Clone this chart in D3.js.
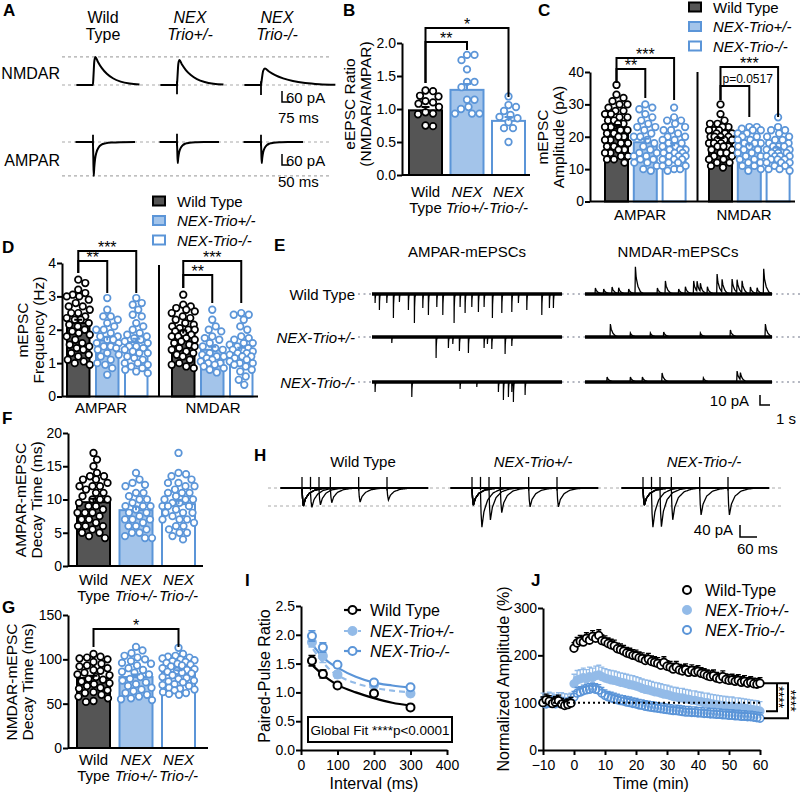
<!DOCTYPE html>
<html>
<head>
<meta charset="utf-8">
<script src="https://cdn.jsdelivr.net/npm/d3@7/dist/d3.min.js"></script>
<style>
html,body{margin:0;padding:0;background:#fff;}
svg{display:block;}
</style>
</head>
<body>
<svg id="fig" width="800" height="795"></svg>
<script>
// ===================== DATA =====================
const genotypes = ["Wild Type", "NEX-Trio+/-", "NEX-Trio-/-"];
const receptors = ["AMPAR", "NMDAR"];

// A: evoked EPSC example amplitudes (pA)
const aNmdaPeak = [153, 136, 90];
const aNmdaStretch = [1, 1, 1.6];
const aNmdaArtifact = [0, 50, 55];
const aAmpaPeak = [185, 115, 115];
const aAmpaArtifact = [40, 45, 40];
// waveform templates (time ms, fraction of peak)
const nmdaTplT = [0, 4, 12, 22, 45, 80, 125, 180, 250, 330, 420];
const nmdaTplF = [0, 0.3, 0.85, 1, 0.82, 0.6, 0.4, 0.24, 0.12, 0.05, 0.02];
const ampaTplT = [0, 2, 5, 9, 15, 25, 40, 60, 90, 140, 200, 300];
const ampaTplF = [0, 0.4, 1, 0.75, 0.5, 0.3, 0.16, 0.08, 0.04, 0.015, 0.005, 0];

// B: eEPSC ratio
const bRatioWT  = [1.28, 1.27, 1.2, 1.19, 1.12, 1.1, 1.08, 1.03, 0.95, 0.93, 0.92, 0.75, 0.74];
const bRatioHet = [1.82, 1.82, 1.74, 1.6, 1.41, 1.41, 1.33, 1.14, 1.14, 1.03, 1.0, 0.93, 0.93, 0.93];
const bRatioKO  = [1.19, 1.06, 1.03, 0.97, 0.91, 0.88, 0.86, 0.8, 0.71, 0.71, 0.5];
const bMeans = [0.98, 1.29, 0.82];
const bSems = [0.05, 0.09, 0.06];
const bTicks = [0, 0.5, 1.0, 1.5, 2.0];

// C: mEPSC amplitude (pA)
const cAmpaWT  = [36,33,32,31,30,30,29,28,28,27,27,26,26,25,25,24,24,23,23,22,22,21,21,20,20,19,19,18,18,17,17,16,16,15,15,14,14,13,13,12];
const cAmpaHet = [30,29,28.5,27,26,25,24,23,23,22,21,20,20,19,18,17,16,15,15,14,14,13,13,12,12,11,10,9.5];
const cAmpaKO  = [29,26,25,25,24,23,22,22,21,20,20,19,19,18,18,17,17,16,16,16,15,15,15,14,14,14,13,13,13,12,12,11,11,10,10,9.5];
const cNmdaWT  = [30,27,25,24,24,23,23,22,22,22,21,21,21,20,20,20,20,19,19,19,18,18,18,17,17,17,16,16,15,15,14,14,13,13,12,12,11,10.5];
const cNmdaHet = [23,23,22.5,22,22,21,21,20,20,19,19,18,18,18,17,17,16,16,15,15,14,14,13,13,12,12,11,11,10,9.5];
const cNmdaKO  = [26,23,22,22,21,20,20,19,19,18,18,17,17,17,16,16,16,15,15,15,14,14,14,13,13,13,12,12,12,11,11,10,10,9.5,15,14];
const cMeans = [[22.6, 18.3, 17.1], [18.9, 17.0, 15.9]];
const cSems = [[1.0, 1.1, 0.9], [0.7, 0.7, 0.7]];
const cTicks = [0, 10, 20, 30, 40];

// D: mEPSC frequency (Hz)
const dAmpaWT  = [3.5,3.4,3.2,3.1,3.05,3.0,3.0,2.9,2.8,2.7,2.6,2.5,2.4,2.35,2.3,2.3,2.2,2.15,2.1,2.0,1.95,1.9,1.85,1.8,1.7,1.6,1.55,1.5,1.45,1.4,1.3,1.25,1.2,1.1,1.05,1.0,0.95,2.7,2.5];
const dAmpaHet = [2.95,2.6,2.4,2.4,2.3,2.2,2.1,2.0,2.0,1.9,1.8,1.7,1.7,1.6,1.5,1.5,1.4,1.3,1.25,1.2,1.1,1.0,0.95,0.85,0.65,1.8,1.6,1.45];
const dAmpaKO  = [2.95,2.8,2.75,2.6,2.45,2.4,2.2,2.1,2.0,1.9,1.85,1.8,1.75,1.7,1.65,1.6,1.5,1.45,1.4,1.35,1.3,1.2,1.15,1.1,1.0,0.95,0.9,0.85,0.8,0.75,0.7,1.5,1.3,1.0];
const dNmdaWT  = [3.05,2.75,2.7,2.65,2.6,2.55,2.5,2.4,2.35,2.3,2.2,2.15,2.1,2.05,2.0,1.95,1.9,1.85,1.8,1.75,1.7,1.65,1.6,1.55,1.5,1.45,1.4,1.35,1.3,1.25,1.2,1.1,1.0,0.95,0.9,0.85,2.0,1.8];
const dNmdaHet = [2.6,2.3,2.1,2.0,1.95,1.8,1.75,1.7,1.6,1.5,1.45,1.4,1.3,1.25,1.2,1.15,1.1,1.05,1.0,0.95,0.9,0.85,0.8,0.72,1.2,1.0];
const dNmdaKO  = [2.5,2.45,2.45,2.3,2.1,2.0,1.8,1.75,1.7,1.6,1.55,1.5,1.45,1.4,1.35,1.3,1.25,1.2,1.15,1.1,1.05,1.0,0.95,0.9,0.8,0.75,0.6,0.5,0.35,1.6,1.3,1.0,1.2,1.4];
const dMeans = [[2.2, 1.68, 1.63], [1.89, 1.4, 1.37]];
const dSems = [[0.1, 0.1, 0.1], [0.09, 0.09, 0.09]];
const dTicks = [0, 1, 2, 3, 4];

// E: mEPSC example events (time s, amplitude pA)
const eAmpaTimes = [
  [0.3,0.73,1.47,2.13,2.73,3.63,4.23,5.07,5.63,6.47,7.07,8.2,8.8,9.3,9.97,10.63,11.2,12.03,12.97,13.97,14.63,15.47,16.97,17.73,18.13],
  [1.97,6.4,7.63,8.07,8.73,9.63,11.2,11.53,11.97,13.3,13.97],
  [0.3,3.97,8.8,10.47,12.63,13.13,13.63,13.97,14.13,15.3]
];
const eAmpaAmps = [
  [9,16,9,24,8,16,29,14,21,13,21,29,13,19,13,18,13,24,19,18,9,16,21,14,14],
  [6,21,11,7,14,16,11,7,12,17,9],
  [10,15,7,5,10,18,15,10,20,13]
];
const eNmdaTimes = [
  [1.0,1.83,2.67,3.33,4.33,5.0,7.2,8.0,9.33,10.0,10.83,11.17,11.5,12.2,13.17,13.67,14.67,15.17,15.67,16.5,17.17,17.83],
  [2.5,4.5,6.5,7.83,11.5,14.5,18.0],
  [2.17,4.5,5.7,7.67,11.8,15.17,15.5]
];
const eNmdaAmps = [
  [6,5,7,6,5,27,6,13,5,7,13,10,8,7,20,13,15,13,12,7,6,25],
  [13,4,4,5,4,7,13],
  [5,5,5,9,4,11,7]
];
const ampaMiniT = [0, 0.01, 0.03, 0.07, 0.15];
const ampaMiniF = [0, 1, 0.45, 0.12, 0];
const nmdaMiniT = [0, 0.04, 0.12, 0.3, 0.55, 0.9];
const nmdaMiniF = [0, 1, 0.6, 0.28, 0.08, 0];

// F, G: decay times (ms)
const fWT  = [17,16,15,14,13.5,13.5,13,13,12.5,12,12,11.5,11,11,10.5,10,10,9.5,9,9,8.5,8,8,7.5,7,7,6.5,6,6,5.5,5,5,4.5,4.2,12,10,8,6];
const fHet = [14,13,12.5,12.2,12,11,11,10.5,10,10,9.5,9,9,8.5,8,8,7.5,7,7,6.5,6,6,5.5,5,5,4.5,4.2,4.2,9,7];
const fKO  = [17,14,13.8,13.5,13,12.5,12,12,11.5,11,11,10.5,10,10,9.5,9.5,9,9,8.5,8,8,7.5,7,7,6.5,6,6,5.5,5,5,4.5,4,11,10,8,7,12.5,9];
const fMeans = [9.6, 8.4, 9.3];
const fSems = [0.5, 0.5, 0.5];
const fTicks = [0, 5, 10, 15, 20];
const gWT  = [106,103,102,101,100,97,95,93,92,90,88,87,85,83,82,80,78,77,75,73,72,70,68,67,65,63,62,60,58,56,53,52];
const gHet = [114,110,107,104,102,100,98,96,95,93,90,88,86,85,83,80,78,76,74,72,70,68,66,64,62,60,58,56,55,54];
const gKO  = [113,106,104,103,102,101,100,99,98,97,96,95,94,93,92,90,89,88,87,86,85,84,82,80,79,78,76,75,74,72,71,70,68,67,66,65,63,62,61,60];
const gMeans = [79, 80, 85.7];
const gSems = [2.5, 3, 2];
const gTicks = [0, 50, 100, 150];

// H / I: paired-pulse
const ppInterval = [30, 60, 100, 200, 300];
const hFirstAmp = [60, 57, 57];
const hSecondAmp = [[52, 53, 49, 47, 40], [119, 103, 82, 63, 63], [119, 126, 106, 90, 90]];
const hTplT = [0, 2, 5, 12, 25, 45, 70, 100];
const hTplF = [0, 0.6, 1, 0.6, 0.3, 0.12, 0.04, 0];
const ppWT  = [1.55, 1.32, 1.12, 0.98, 0.74];
const ppHet = [1.87, 1.63, 1.31, 1.13, 0.98];
const ppKO  = [1.98, 1.78, 1.48, 1.17, 1.09];
const ppWTsem  = [0.09, 0.07, 0.04, 0.05, 0.03];
const ppHetsem = [0.08, 0.11, 0.06, 0.05, 0.05];
const ppKOsem  = [0.09, 0.08, 0.05, 0.04, 0.04];
const fitInterval = [33, 50, 75, 100, 150, 200, 250, 300];
const fitWT  = [1.46, 1.36, 1.23, 1.13, 1.0, 0.9, 0.82, 0.77];
const fitHet = [1.75, 1.6, 1.42, 1.3, 1.16, 1.08, 1.03, 1.0];
const fitKO  = [1.82, 1.68, 1.53, 1.43, 1.27, 1.17, 1.12, 1.08];
const iXTicks = [0, 100, 200, 300, 400];
const iYTicks = [0, 0.5, 1.0, 1.5, 2.0, 2.5];

// J: LTP time course
const jTime = [-10,-9,-8,-7,-6,-5,-4,-3,-2,-1,0,1,2,3,4,5,6,7,8,9,10,11,12,13,14,15,16,17,18,19,20,21,22,23,24,25,26,27,28,29,30,31,32,33,34,35,36,37,38,39,40,41,42,43,44,45,46,47,48,49,50,51,52,53,54,55,56,57,58,59,60];
const jWT = [100,106,103,98,101,104,97,94,96,99,
  215,226,230,228,236,232,240,236,242,231,
  229,225,222,220,214,212,209,205,203,200,
  199,195,193,189,192,187,185,183,179,185,
  177,175,171,175,169,167,170,164,168,164,
  166,162,160,157,155,157,152,150,155,149,
  147,148,145,147,143,145,141,143,140,139,141];
const jHet = [100,98,102,100,97,101,101,99,98,100,
  140,148,150,153,150,155,153,157,159,155,
  152,150,148,147,145,143,142,140,138,137,
  135,133,130,128,127,125,123,122,120,118,
  117,115,113,112,110,110,108,107,105,105,
  103,102,100,100,98,97,96,95,94,93,
  92,92,90,90,89,88,87,86,85,84,82];
const jKO = [100,97,99,101,98,100,99,96,98,100,
  112,120,122,125,127,128,130,128,126,120,
  115,112,110,108,106,104,103,101,100,98,
  97,95,94,92,91,90,89,88,87,86,
  85,84,83,83,82,81,80,80,79,79,
  78,78,77,77,76,76,75,75,74,74,
  73,73,72,72,71,71,70,70,69,68,67];
const jSem = [12, 20, 12];
const jXTicks = [-10, 0, 10, 20, 30, 40, 50, 60];
const jYTicks = [0, 100, 200, 300];

// ===================== STYLE =====================
const FONT = "'Liberation Sans', Arial, Helvetica, sans-serif";
const BLUE = "#5b95d8", LIGHT = "#a3c4ea", LIGHTDOT = "#93bbe8";
const fills = ["#555555", LIGHT, "#ffffff"];
const strokes = ["#000000", BLUE, BLUE];
const R = 3.3;

const svg = d3.select("#fig").attr("font-family", FONT);
svg.append("rect").attr("width", 800).attr("height", 795).attr("fill", "#fff");

function txt(g, x, y, s, o = {}) {
  const t = g.append("text").attr("x", x).attr("y", y).text(s)
    .attr("font-size", o.size || 15).attr("text-anchor", o.anchor || "start")
    .attr("fill", o.fill || "#000");
  if (o.italic) t.attr("font-style", "italic");
  if (o.bold) t.attr("font-weight", "bold");
  if (o.rot) t.attr("transform", `rotate(${o.rot},${x},${y})`);
  return t;
}
function styleAxis(ax, size = 14) {
  ax.attr("font-family", FONT).attr("font-size", size);
  ax.select(".domain").attr("stroke", "#000").attr("stroke-width", 2);
  ax.selectAll(".tick line").attr("stroke", "#000").attr("stroke-width", 2);
  ax.selectAll(".tick text").attr("fill", "#000");
}
function band(left, step, bw) {
  const pi = 1 - bw / step, po = pi / 2, start = left - po * step;
  return d3.scaleBand().domain(genotypes).range([start, start + 3 * step]).paddingInner(pi).paddingOuter(po);
}
function swarm(vals, y, cx, maxHalf) {
  const pts = vals.map(v => ({ v, py: y(v) })).sort((a, b) => b.v - a.v);
  const placed = [], D = 2 * R + 0.8;
  const cands = [0];
  for (let o = 0.5; o <= maxHalf; o += 0.5) cands.push(o, -o);
  for (const p of pts) {
    let chosen = null;
    for (const o of cands) {
      const x = cx + o;
      let ok = true;
      for (const q of placed) { const dx = q.x - x, dy = q.py - p.py; if (dx * dx + dy * dy < D * D) { ok = false; break; } }
      if (ok) { chosen = x; break; }
    }
    if (chosen === null) {
      let best = -1;
      for (const o of cands) {
        const x = cx + o; let md = Infinity;
        for (const q of placed) md = Math.min(md, Math.hypot(q.x - x, q.py - p.py));
        if (md > best) { best = md; chosen = x; }
      }
    }
    p.x = chosen; placed.push(p);
  }
  return placed;
}
function drawBars(g, xb, y, valsArr, means, sems, maxHalf) {
  const bw = xb.bandwidth();
  genotypes.forEach((gn, k) => {
    const x0 = xb(gn), cx = x0 + bw / 2;
    g.append("rect").attr("x", x0).attr("y", y(means[k])).attr("width", bw)
      .attr("height", y(0) - y(means[k])).attr("fill", fills[k]).attr("stroke", strokes[k]).attr("stroke-width", 2);
    const pts = swarm(valsArr[k], y, cx, maxHalf);
    g.selectAll(null).data(pts).join("circle").attr("cx", d => d.x).attr("cy", d => d.py).attr("r", R)
      .attr("fill", "#fff").attr("stroke", strokes[k]).attr("stroke-width", 1.7);
    const yt = y(means[k] + sems[k]);
    g.append("path").attr("d", `M${cx},${y(means[k])}V${yt}M${cx - 4},${yt}H${cx + 4}`)
      .attr("stroke", strokes[k]).attr("stroke-width", 2).attr("fill", "none");
  });
}
function barAxes(g, y, axisX, xEnd, ticks, fmt) {
  const ax = g.append("g").attr("transform", `translate(${axisX},0)`)
    .call(d3.axisLeft(y).tickValues(ticks).tickFormat(fmt).tickSize(5).tickSizeOuter(0).tickPadding(1));
  styleAxis(ax);
  g.append("line").attr("x1", axisX).attr("x2", xEnd).attr("y1", y(0)).attr("y2", y(0))
    .attr("stroke", "#000").attr("stroke-width", 2);
}
function bracket(g, x1, x2, yTop, yL, yR, label) {
  g.append("path").attr("d", `M${x1},${yL}V${yTop}H${x2}V${yR}`).attr("fill", "none")
    .attr("stroke", "#000").attr("stroke-width", 2);
  if (label.startsWith("p")) txt(g, x1 + 2, yTop - 3, label, { size: 12 });
  else txt(g, (x1 + x2) / 2, yTop + 2, label, { size: 16, anchor: "middle" });
}
function groupLabels(g, xb, y1, y2) {
  const top = ["Wild", "NEX", "NEX"], bot = ["Type", "Trio+/-", "Trio-/-"];
  genotypes.forEach((gn, k) => {
    const cx = xb(gn) + xb.bandwidth() / 2;
    txt(g, cx, y1, top[k], { anchor: "middle", italic: k > 0 });
    txt(g, cx, y2, bot[k], { anchor: "middle", italic: k > 0 });
  });
}
function barLegend(g, x, ys) {
  genotypes.forEach((gn, k) => {
    g.append("rect").attr("x", x).attr("y", ys[k] - 4.5).attr("width", 12).attr("height", 9)
      .attr("fill", fills[k]).attr("stroke", strokes[k]).attr("stroke-width", 2);
    txt(g, x + 24, ys[k] + 5.5, gn, { italic: k > 0 });
  });
}
const ctr = (xb, k) => xb(genotypes[k]) + xb.bandwidth() / 2;

// Panel letters
[["A", 3, 16], ["B", 343, 16], ["C", 538, 16], ["D", 2, 253], ["E", 274, 251], ["F", 2, 424],
 ["G", 2, 613], ["H", 254, 461], ["I", 245, 586], ["J", 531, 586]]
  .forEach(([s, x, y]) => txt(svg, x, y, s, { size: 17, bold: true }));

// ===================== A =====================
{
  const g = svg.append("g");
  const col = d3.scalePoint().domain(genotypes).range([103, 277]);
  const stimX = [93, 177, 261];
  const aY = d3.scaleLinear().domain([0, 60]).range([0, 11]);
  const nB = 85, aB = 142;
  const top = ["Wild", "NEX", "NEX"], bot = ["Type", "Trio+/-", "Trio-/-"];
  genotypes.forEach((gn, k) => {
    txt(g, col(gn), 23, top[k], { size: 16, anchor: "middle", italic: k > 0 });
    txt(g, col(gn), 40, bot[k], { size: 16, anchor: "middle", italic: k > 0 });
  });
  txt(g, 60, 79, "NMDAR", { size: 16, anchor: "end" });
  txt(g, 60, 166, "AMPAR", { size: 16, anchor: "end" });
  [nB, nB - aY(aNmdaPeak[0]), aB, aB + aY(aAmpaPeak[0])].forEach(yy =>
    g.append("line").attr("x1", 62).attr("x2", 330).attr("y1", yy).attr("y2", yy)
      .attr("stroke", "#aaa").attr("stroke-width", 1.2).attr("stroke-dasharray", "3,3"));
  genotypes.forEach((gn, k) => {
    const sx = stimX[k];
    const xN = d3.scaleLinear().domain([0, 75]).range([sx, sx + 8.3]);
    const ptsN = [[-150, 0], [-1, 0]].concat(nmdaTplT.map((t, i) => [t * aNmdaStretch[k], nmdaTplF[i] * aNmdaPeak[k]]));
    ptsN.splice(2, 1);
    g.append("path").attr("d", d3.line().x(d => xN(d[0])).y(d => nB - aY(d[1])).curve(d3.curveMonotoneX)(ptsN))
      .attr("fill", "none").attr("stroke", "#000").attr("stroke-width", 2);
    if (aNmdaArtifact[k] > 0)
      g.append("line").attr("x1", xN(0)).attr("x2", xN(0)).attr("y1", nB - aY(20)).attr("y2", nB + aY(aNmdaArtifact[k]))
        .attr("stroke", "#000").attr("stroke-width", 1.8);
    const xA = d3.scaleLinear().domain([0, 50]).range([sx, sx + 7]);
    const ptsA = [[-125, 0], [-1, 0]].concat(ampaTplT.slice(1).map((t, i) => [t, ampaTplF[i + 1] * aAmpaPeak[k]]));
    g.append("path").attr("d", d3.line().x(d => xA(d[0])).y(d => aB + aY(d[1])).curve(d3.curveMonotoneX)(ptsA))
      .attr("fill", "none").attr("stroke", "#000").attr("stroke-width", 2);
    g.append("line").attr("x1", xA(0)).attr("x2", xA(0)).attr("y1", aB - aY(aAmpaArtifact[k])).attr("y2", aB + aY(20))
      .attr("stroke", "#000").attr("stroke-width", 1.8);
  });
  const xN = d3.scaleLinear().domain([0, 75]).range([282, 282 + 8.3]);
  g.append("path").attr("d", `M282,${102 - aY(60)}V102H${xN(75)}`).attr("fill", "none").attr("stroke", "#000").attr("stroke-width", 1.5);
  txt(g, 286, 103, "60 pA");
  txt(g, 278, 123, "75 ms");
  const xA = d3.scaleLinear().domain([0, 50]).range([282, 289]);
  g.append("path").attr("d", `M282,${165 - aY(60)}V165H${xA(50)}`).attr("fill", "none").attr("stroke", "#000").attr("stroke-width", 1.5);
  txt(g, 286, 166, "60 pA");
  txt(g, 278, 187, "50 ms");
}

// ===================== B =====================
{
  const g = svg.append("g");
  const y = d3.scaleLinear().domain([0, 2]).range([175, 43]);
  const xb = band(409, 41.5, 33);
  drawBars(g, xb, y, [bRatioWT, bRatioHet, bRatioKO], bMeans, bSems, 15);
  barAxes(g, y, 402, 530, bTicks, d3.format(".1f"));
  groupLabels(g, xb, 197, 213);
  txt(g, 355, 104, "eEPSC Ratio", { size: 15.5, anchor: "middle", rot: -90 });
  txt(g, 371, 104, "(NMDAR/AMPAR)", { size: 15.5, anchor: "middle", rot: -90 });
  const c0 = ctr(xb, 0);
  bracket(g, c0, ctr(xb, 2), 28, 83, 97, "*");
  bracket(g, c0, ctr(xb, 1), 42, 83, 50, "**");
}

// ===================== C =====================
{
  const g = svg.append("g");
  const y = d3.scaleLinear().domain([0, 40]).range([201.5, 72]);
  const lefts = [605, 709];
  const vals = [[cAmpaWT, cAmpaHet, cAmpaKO], [cNmdaWT, cNmdaHet, cNmdaKO]];
  const xbs = lefts.map(l => band(l, 28.8, 23));
  receptors.forEach((r, i) => drawBars(g, xbs[i], y, vals[i], cMeans[i], cSems[i], 11.5));
  g.append("line").attr("x1", 697.5).attr("x2", 697.5).attr("y1", 72).attr("y2", y(0)).attr("stroke", "#000").attr("stroke-width", 2);
  barAxes(g, y, 590, 795, cTicks, d3.format("d"));
  [640, 744].forEach((cx, i) => txt(g, cx, 220, receptors[i], { anchor: "middle" }));
  txt(g, 548, 137, "mEPSC", { size: 15.5, anchor: "middle", rot: -90 });
  txt(g, 564, 137, "Amplitude (pA)", { size: 15.5, anchor: "middle", rot: -90 });
  barLegend(g, 689, [7, 26.5, 46]);
  const a = xbs[0], n = xbs[1];
  bracket(g, ctr(a, 0), ctr(a, 2), 58, 83, 100, "***");
  bracket(g, ctr(a, 0), ctr(a, 1), 69, 83, 98, "**");
  bracket(g, ctr(n, 0), ctr(n, 2), 67, 100, 117, "***");
  bracket(g, ctr(n, 0), ctr(n, 1), 86, 100, 117, "p=0.0517");
}

// ===================== D =====================
{
  const g = svg.append("g");
  const y = d3.scaleLinear().domain([0, 4]).range([396.5, 263]);
  const lefts = [67, 172];
  const vals = [[dAmpaWT, dAmpaHet, dAmpaKO], [dNmdaWT, dNmdaHet, dNmdaKO]];
  const xbs = lefts.map(l => band(l, 29, 22.5));
  receptors.forEach((r, i) => drawBars(g, xbs[i], y, vals[i], dMeans[i], dSems[i], 11.5));
  g.append("line").attr("x1", 159).attr("x2", 159).attr("y1", 265).attr("y2", y(0)).attr("stroke", "#000").attr("stroke-width", 2);
  barAxes(g, y, 62, 258, dTicks, d3.format("d"));
  [101, 213].forEach((cx, i) => txt(g, cx, 413, receptors[i], { anchor: "middle" }));
  txt(g, 28, 330, "mEPSC", { size: 15.5, anchor: "middle", rot: -90 });
  txt(g, 44, 330, "Frequency (Hz)", { size: 15.5, anchor: "middle", rot: -90 });
  barLegend(g, 153, [201, 220.5, 240]);
  const a = xbs[0], n = xbs[1];
  bracket(g, ctr(a, 0), ctr(a, 2), 251, 273, 293, "***");
  bracket(g, ctr(a, 0), ctr(a, 1), 261, 273, 293, "**");
  bracket(g, ctr(n, 0), ctr(n, 2), 261, 288, 303, "***");
  bracket(g, ctr(n, 0), ctr(n, 1), 275, 288, 303, "**");
}

// ===================== E =====================
{
  const g = svg.append("g");
  const rows = [294, 337, 382];
  txt(g, 467, 257, "AMPAR-mEPSCs", { anchor: "middle" });
  txt(g, 678, 257, "NMDAR-mEPSCs", { anchor: "middle" });
  const xA = d3.scaleLinear().domain([0, 19]).range([372, 562]);
  const xN = d3.scaleLinear().domain([0, 18.7]).range([585, 772]);
  const eY = d3.scaleLinear().domain([0, 10]).range([0, 10]);
  const tA = d3.scaleLinear().domain(ampaMiniT).range(ampaMiniF).clamp(true);
  const tN = d3.scaleLinear().domain(nmdaMiniT).range(nmdaMiniF).clamp(true);
  function trace(times, amps, tpl, knots, T) {
    let ts = d3.range(0, T + 0.001, 0.02);
    times.forEach(te => knots.forEach(kt => { if (te + kt <= T) ts.push(te + kt); }));
    ts = Array.from(new Set(ts.map(t => +t.toFixed(4)))).sort((a, b) => a - b);
    return ts.map(t => [t, d3.sum(times, (te, i) => amps[i] * tpl(t - te))]);
  }
  genotypes.forEach((gn, k) => {
    const yb = rows[k];
    txt(g, 355, yb + 5.5, gn, { anchor: "end", italic: k > 0 });
    g.append("line").attr("x1", 358).attr("x2", 800).attr("y1", yb).attr("y2", yb)
      .attr("stroke", "#b5b8c2").attr("stroke-width", 2.2).attr("stroke-dasharray", "2,3.5");
    g.append("line").attr("x1", xA(0)).attr("x2", xA(19)).attr("y1", yb).attr("y2", yb).attr("stroke", "#000").attr("stroke-width", 3.4);
    const pa = trace(eAmpaTimes[k], eAmpaAmps[k], tA, ampaMiniT, 19);
    g.append("path").attr("d", d3.line().x(d => xA(d[0])).y(d => yb + eY(d[1]))(pa))
      .attr("fill", "none").attr("stroke", "#000").attr("stroke-width", 1.2);
    g.append("line").attr("x1", xN(0)).attr("x2", xN(18.7)).attr("y1", yb).attr("y2", yb).attr("stroke", "#000").attr("stroke-width", 3.4);
    const pn = trace(eNmdaTimes[k], eNmdaAmps[k], tN, nmdaMiniT, 18.7);
    g.append("path").attr("d", d3.line().x(d => xN(d[0])).y(d => yb - eY(d[1]))(pn))
      .attr("fill", "none").attr("stroke", "#000").attr("stroke-width", 1.3);
  });
  g.append("path").attr("d", `M760,${405 - eY(10)}V405H${760 + (xN(1) - xN(0))}`).attr("fill", "none").attr("stroke", "#000").attr("stroke-width", 1.5);
  txt(g, 749, 406, "10 pA", { anchor: "end" });
  txt(g, 776, 424, "1 s");
}

// ===================== F =====================
{
  const g = svg.append("g");
  const y = d3.scaleLinear().domain([0, 20]).range([566, 433]);
  const xb = band(77, 42.5, 33);
  drawBars(g, xb, y, [fWT, fHet, fKO], fMeans, fSems, 16);
  barAxes(g, y, 68, 203, fTicks, d3.format("d"));
  groupLabels(g, xb, 585, 601);
  txt(g, 26, 500, "AMPAR-mEPSC", { size: 15.5, anchor: "middle", rot: -90 });
  txt(g, 42, 500, "Decay Time (ms)", { size: 15.5, anchor: "middle", rot: -90 });
}

// ===================== G =====================
{
  const g = svg.append("g");
  const y = d3.scaleLinear().domain([0, 150]).range([748, 615]);
  const xb = band(77, 42.5, 33);
  drawBars(g, xb, y, [gWT, gHet, gKO], gMeans, gSems, 16);
  barAxes(g, y, 68, 208, gTicks, d3.format("d"));
  groupLabels(g, xb, 765, 781);
  txt(g, 17, 682, "NMDAR-mEPSC", { size: 15.5, anchor: "middle", rot: -90 });
  txt(g, 33, 682, "Decay Time (ms)", { size: 15.5, anchor: "middle", rot: -90 });
  bracket(g, ctr(xb, 0), ctr(xb, 2), 629, 647, 647, "*");
}

// ===================== H =====================
{
  const g = svg.append("g");
  const stim = [302, 472, 643];
  const hb = 488;
  const hY = d3.scaleLinear().domain([0, 40]).range([0, 12]);
  const tpl = d3.scaleLinear().domain(hTplT).range(hTplF).clamp(true);
  [hb, hb + hY(hFirstAmp[0])].forEach(yy =>
    g.append("line").attr("x1", 268).attr("x2", 782).attr("y1", yy).attr("y2", yy)
      .attr("stroke", "#aaa").attr("stroke-width", 1).attr("stroke-dasharray", "3,3"));
  genotypes.forEach((gn, k) => {
    const cx = stim[k] + 61;
    txt(g, cx, 467, gn, { anchor: "middle", italic: k > 0 });
    const xs = d3.scaleLinear().domain([0, 60]).range([stim[k], stim[k] + 17]);
    g.append("line").attr("x1", xs(-75)).attr("x2", xs(445)).attr("y1", hb).attr("y2", hb).attr("stroke", "#000").attr("stroke-width", 2.2);
    ppInterval.forEach((iv, i) => {
      let ts = d3.range(-75, 446, 2);
      hTplT.forEach(kt => { ts.push(kt); ts.push(iv + kt); });
      ts = Array.from(new Set(ts)).sort((a, b) => a - b);
      const pts = ts.map(t => [t, hFirstAmp[k] * tpl(t) + hSecondAmp[k][i] * tpl(t - iv)]);
      g.append("path").attr("d", d3.line().x(d => xs(d[0])).y(d => hb + hY(d[1]))(pts))
        .attr("fill", "none").attr("stroke", "#000").attr("stroke-width", 1.3);
      g.append("line").attr("x1", xs(iv)).attr("x2", xs(iv)).attr("y1", hb - hY(37)).attr("y2", hb + hY(8))
        .attr("stroke", "#000").attr("stroke-width", 1.3);
    });
    g.append("line").attr("x1", xs(0)).attr("x2", xs(0)).attr("y1", hb - hY(37)).attr("y2", hb + hY(8))
      .attr("stroke", "#000").attr("stroke-width", 1.3);
  });
  const xs = d3.scaleLinear().domain([0, 60]).range([740, 757]);
  g.append("path").attr("d", `M740,${537 - hY(40)}V537H${xs(60)}`).attr("fill", "none").attr("stroke", "#000").attr("stroke-width", 1.5);
  txt(g, 733, 535, "40 pA", { anchor: "end" });
  txt(g, 737, 554, "60 ms");
}

// ===================== I =====================
{
  const g = svg.append("g");
  const x = d3.scaleLinear().domain([0, 400]).range([301, 447]);
  const y = d3.scaleLinear().domain([0, 2.5]).range([750, 606]);
  const ax = g.append("g").attr("transform", "translate(0,750)")
    .call(d3.axisBottom(x).tickValues(iXTicks).tickFormat(d3.format("d")).tickSize(5).tickSizeOuter(0).tickPadding(5));
  styleAxis(ax);
  const ay = g.append("g").attr("transform", "translate(301,0)")
    .call(d3.axisLeft(y).tickValues(iYTicks).tickFormat(d3.format(".1f")).tickSize(5).tickSizeOuter(0).tickPadding(1));
  styleAxis(ay);
  txt(g, 374, 789, "Interval (ms)", { size: 16, anchor: "middle" });
  txt(g, 270, 676, "Paired-Pulse Ratio", { size: 16, anchor: "middle", rot: -90 });
  const cols = ["#000", LIGHTDOT, BLUE];
  const fitsY = [fitWT, fitHet, fitKO];
  const means = [ppWT, ppHet, ppKO], sems = [ppWTsem, ppHetsem, ppKOsem];
  const line = d3.line().x(d => x(d[0])).y(d => y(d[1])).curve(d3.curveMonotoneX);
  fitsY.forEach((f, k) => {
    g.append("path").attr("d", line(fitInterval.map((t, i) => [t, f[i]])))
      .attr("fill", "none").attr("stroke", cols[k]).attr("stroke-width", 2.2)
      .attr("stroke-dasharray", k === 1 ? "6,4" : null);
  });
  [1, 2, 0].forEach(k => {
    ppInterval.forEach((t, i) => {
      const cx = x(t), y1 = y(means[k][i] - sems[k][i]), y2 = y(means[k][i] + sems[k][i]);
      g.append("path").attr("d", `M${cx},${y1}V${y2}M${cx - 3.5},${y2}H${cx + 3.5}M${cx - 3.5},${y1}H${cx + 3.5}`)
        .attr("stroke", cols[k]).attr("stroke-width", 1.6).attr("fill", "none");
    });
    g.selectAll(null).data(ppInterval).join("circle")
      .attr("cx", d => x(d)).attr("cy", (d, i) => y(means[k][i])).attr("r", 4)
      .attr("fill", k === 1 ? LIGHTDOT : "#fff").attr("stroke", cols[k]).attr("stroke-width", 2);
  });
  const ly = [610, 631, 651];
  genotypes.forEach((gn, k) => {
    g.append("line").attr("x1", 344).attr("x2", 361).attr("y1", ly[k]).attr("y2", ly[k])
      .attr("stroke", cols[k]).attr("stroke-width", 2.2).attr("stroke-dasharray", k === 1 ? "4,3" : null);
    g.append("circle").attr("cx", 352.5).attr("cy", ly[k]).attr("r", 4)
      .attr("fill", k === 1 ? LIGHTDOT : "#fff").attr("stroke", cols[k]).attr("stroke-width", 2);
    txt(g, 370, ly[k] + 6, gn, { size: 16, italic: k > 0 });
  });
  g.append("rect").attr("x", 308).attr("y", 717).attr("width", 144).attr("height", 25)
    .attr("fill", "#fff").attr("stroke", "#000").attr("stroke-width", 2);
  txt(g, 380, 735, "Global Fit ****p<0.0001", { size: 13.5, anchor: "middle" });
}

// ===================== J =====================
{
  const g = svg.append("g");
  const x = d3.scaleLinear().domain([-10, 60]).range([543, 760]);
  const y = d3.scaleLinear().domain([0, 300]).range([750, 608]);
  const ax = g.append("g").attr("transform", "translate(0,750)")
    .call(d3.axisBottom(x).tickValues(jXTicks).tickFormat(d3.format("d")).tickSize(5).tickSizeOuter(0).tickPadding(5));
  styleAxis(ax);
  const ay = g.append("g").attr("transform", "translate(543,0)")
    .call(d3.axisLeft(y).tickValues(jYTicks).tickFormat(d3.format("d")).tickSize(5).tickSizeOuter(0).tickPadding(1));
  styleAxis(ay);
  txt(g, 651, 789, "Time (min)", { size: 16, anchor: "middle" });
  txt(g, 509, 679, "Normalized Amplitude (%)", { size: 16, anchor: "middle", rot: -90 });
  const series = [jWT, jHet, jKO];
  const ecol = ["#000", LIGHTDOT, BLUE];
  [1, 2, 0].forEach(k => {
    const s = series[k];
    g.append("path").attr("d", jTime.map((t, i) => {
      const cx = x(t), y1 = y(s[i]), y2 = y(s[i] + jSem[k]);
      return `M${cx},${y1}V${y2}M${cx - 2.5},${y2}H${cx + 2.5}`;
    }).join("")).attr("stroke", ecol[k]).attr("stroke-width", 1.3).attr("fill", "none");
    g.selectAll(null).data(jTime).join("circle")
      .attr("cx", d => x(d)).attr("cy", (d, i) => y(s[i])).attr("r", 3.8)
      .attr("fill", k === 1 ? LIGHTDOT : (k === 2 ? "none" : "#fff"))
      .attr("stroke", ecol[k]).attr("stroke-width", k === 0 ? 1.8 : 1.6);
  });
  g.append("line").attr("x1", x(-10)).attr("x2", x(60)).attr("y1", y(100)).attr("y2", y(100))
    .attr("stroke", "#000").attr("stroke-width", 2).attr("stroke-dasharray", "2,3");
  const yTop = y(jWT[jWT.length - 1]), yIn = y(jHet[jHet.length - 1]), yOut = y(jKO[jKO.length - 1]);
  g.append("path").attr("d", `M764,${yTop}H788V${yOut}H764M777,${yTop}V${yIn}H766`)
    .attr("fill", "none").attr("stroke", "#000").attr("stroke-width", 2);
  txt(g, 774, (yTop + yIn) / 2, "****", { size: 14, anchor: "middle", rot: 90 });
  txt(g, 786, (yTop + yOut) / 2, "****", { size: 14, anchor: "middle", rot: 90 });
  const ly = [590, 610, 630];
  ["Wild-Type", "NEX-Trio+/-", "NEX-Trio-/-"].forEach((s, k) => {
    g.append("circle").attr("cx", 687).attr("cy", ly[k]).attr("r", 4)
      .attr("fill", k === 1 ? LIGHTDOT : "#fff").attr("stroke", ecol[k]).attr("stroke-width", 2);
    txt(g, 705, ly[k] + 6, s, { size: 16, italic: k > 0 });
  });
}
</script>
</body>
</html>
